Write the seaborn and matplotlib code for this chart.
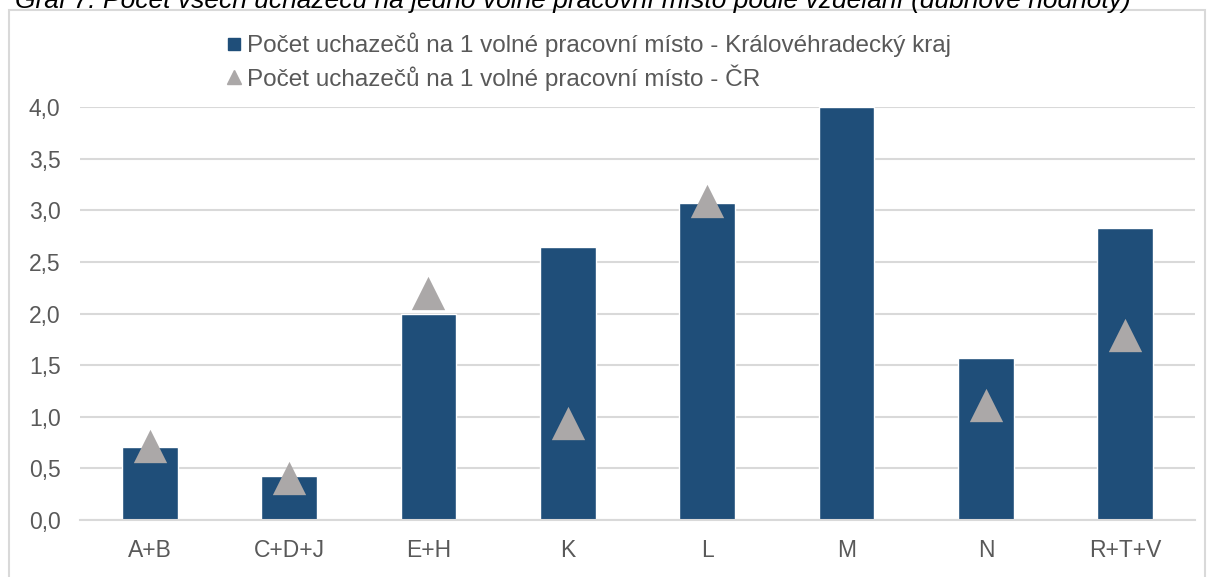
import numpy as np
import pandas as pd
import matplotlib
matplotlib.use("Agg")
import matplotlib.pyplot as plt
from matplotlib.lines import Line2D
from matplotlib.patches import Rectangle
from matplotlib.ticker import FuncFormatter
import seaborn as sns

# data

categories = ["A+B", "C+D+J", "E+H", "K", "L", "M", "N", "R+T+V"]
kraj_values = [0.71, 0.43, 2.0, 2.64, 3.07, 4.0, 1.57, 2.83]
cr_values = [0.72, 0.41, 2.2, 0.94, 3.09, np.nan, 1.11, 1.79]

kraj_label = "Počet uchazečů na 1 volné pracovní místo - Královéhradecký kraj"
cr_label = "Počet uchazečů na 1 volné pracovní místo - ČR"
title = "Graf 7: Počet všech uchazečů na jedno volné pracovní místo podle vzdělání (dubnové hodnoty)"

bar_color = "#1F4E79"
tri_color = "#ABA8A8"
grid_color = "#D9D9D9"
text_color = "#595959"

df = pd.DataFrame({"kategorie": categories, "kraj": kraj_values, "cr": cr_values})

sns.set_style("white")
plt.rcParams["font.family"] = ["Liberation Sans", "DejaVu Sans"]

W, H = 1207, 577
fig = plt.figure(figsize=(W / 100, H / 100), dpi=100)
ax = fig.add_axes([80 / W, 1 - 520 / H, 1115 / W, 413 / H])

# bars for the region

sns.barplot(data=df, x="kategorie", y="kraj", order=categories, color=bar_color,
            width=0.4, saturation=1, ax=ax, zorder=2)

# triangles for the whole country

sns.stripplot(data=df.dropna(), x="kategorie", y="cr", order=categories, jitter=False,
              marker="^", size=24, color=tri_color, linewidth=0, ax=ax, zorder=3)

ax.set_xlim(-0.5, len(categories) - 0.5)
ax.set_ylim(0, 4.0)
ax.set_yticks(np.arange(0, 4.01, 0.5))
ax.yaxis.set_major_formatter(FuncFormatter(lambda v, p: f"{v:.1f}".replace(".", ",")))
ax.grid(axis="y", color=grid_color, linewidth=1.5, zorder=0)
ax.set_axisbelow(True)
for side in ["left", "right", "top"]:
    ax.spines[side].set_visible(False)
ax.spines["bottom"].set_color(grid_color)
ax.spines["bottom"].set_linewidth(1.5)
ax.tick_params(axis="both", length=0, colors=text_color, labelsize=16.5)
ax.tick_params(axis="y", pad=14)
ax.tick_params(axis="x", pad=14)
ax.set_xlabel("")
ax.set_ylabel("")

# legend above the plot

handles = [
    Line2D([], [], marker="s", linestyle="none", color=bar_color, markersize=8, label=kraj_label),
    Line2D([], [], marker="^", linestyle="none", color=tri_color, markersize=10, label=cr_label),
]
fig.legend(handles=handles, loc="upper left", bbox_to_anchor=(212 / W, 1 - 23 / H),
           frameon=False, fontsize=17.5, labelcolor=text_color, handletextpad=0.05,
           handlelength=1.0, labelspacing=0.28, borderaxespad=0)

# outer frame and clipped caption

fig.patches.append(Rectangle((8.5 / W, -0.05), (1205 - 8.5) / W, 1.05 - 10 / H,
                             transform=fig.transFigure, fill=False,
                             edgecolor=grid_color, linewidth=1.5))
fig.text(15 / W, 1 - 8 / H, title, fontsize=19, style="italic", color="black",
         ha="left", va="baseline")

fig.savefig("out.png", dpi=100)
